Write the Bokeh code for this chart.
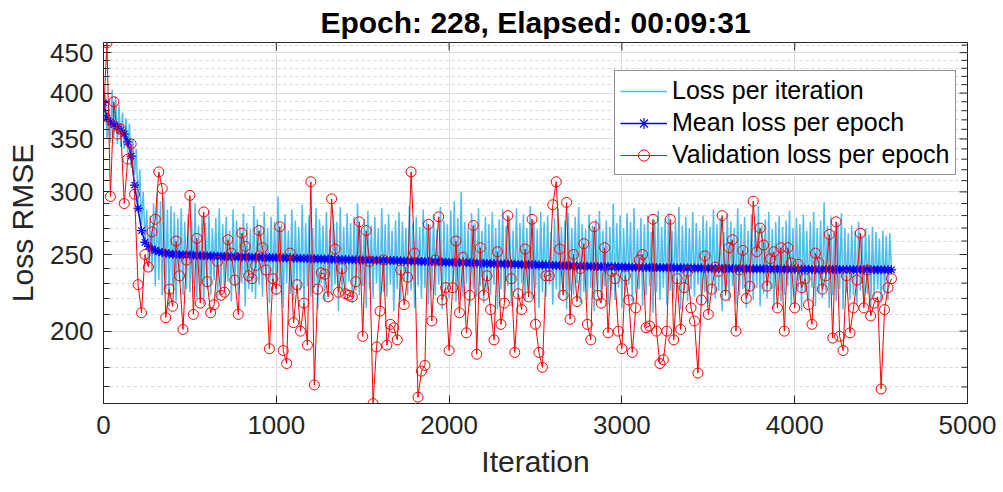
from bokeh.plotting import figure
from bokeh.models import (Range1d, FixedTicker, PrintfTickFormatter, Legend, LegendItem)
from bokeh.embed import file_html
from bokeh.resources import INLINE

FONT = "Liberation Sans"
AX = "#262626"

TITLE = "Epoch: 228, Elapsed: 00:09:31"
X_RANGE = (0, 5000)
Y_RANGE = (162, 463.5)
X_TICKS = [0, 1000, 2000, 3000, 4000, 5000]
Y_TICKS = [200, 250, 300, 350, 400, 450]
Y_MINOR = [170, 180, 190, 210, 220, 230, 240, 260, 270, 280, 290,
           310, 320, 330, 340, 360, 370, 380, 390, 410, 420, 430, 440, 460]

# loss per iteration (sampled every 10 iterations)
ITER_X = list(range(0, 4561, 10))
ITER_LOSS = [
    370, 398, 350, 392, 346, 404, 352, 396, 345, 386,
    342, 378, 340, 372, 336, 366, 322, 350, 315, 340,
    290, 320, 272, 300, 258, 285, 242, 280, 238, 290,
    228, 300, 232, 292, 222, 296, 226, 285, 215, 288,
    228, 283, 218, 278, 230, 286, 222, 275, 226, 281,
    224, 276, 230, 290, 220, 272, 228, 280, 216, 274,
    226, 284, 222, 270, 232, 278, 219, 286, 227, 273,
    223, 279, 231, 268, 218, 285, 228, 276, 222, 271,
    230, 282, 215, 274, 226, 269, 224, 288, 220, 277,
    229, 272, 221, 283, 233, 270, 217, 279, 226, 275,
    222, 296, 228, 273, 214, 281, 230, 268, 223, 285,
    219, 276, 231, 271, 225, 289, 216, 274, 228, 280,
    221, 270, 227, 286, 213, 277, 230, 272, 218, 283,
    226, 269, 222, 280, 229, 275, 212, 287, 224, 271,
    220, 282, 231, 274, 217, 279, 225, 290, 222, 268,
    228, 277, 214, 284, 226, 272, 220, 279, 230, 270,
    216, 286, 224, 273, 221, 281, 229, 268, 212, 276,
    226, 283, 219, 275, 231, 270, 222, 288, 225, 274,
    214, 279, 228, 271, 220, 285, 227, 276, 216, 272,
    225, 281, 222, 269, 229, 287, 213, 276, 226, 273,
    220, 284, 227, 292, 218, 278, 224, 300, 221, 275,
    230, 270, 215, 282, 226, 274, 221, 286, 228, 268,
    217, 279, 225, 273, 222, 283, 229, 270, 213, 277,
    226, 285, 220, 272, 228, 279, 215, 268, 224, 286,
    221, 274, 230, 281, 218, 270, 225, 288, 220, 276,
    227, 269, 214, 283, 224, 275, 221, 280, 229, 267,
    216, 278, 226, 286, 220, 271, 228, 276, 213, 282,
    225, 270, 222, 279, 230, 287, 217, 273, 224, 269,
    219, 281, 227, 272, 212, 277, 226, 284, 221, 268,
    228, 276, 216, 271, 225, 290, 219, 274, 227, 280,
    214, 270, 224, 282, 229, 275, 218, 286, 223, 269,
    226, 278, 215, 273, 222, 280, 228, 267, 211, 276,
    224, 284, 219, 271, 227, 277, 216, 282, 225, 268,
    220, 275, 228, 287, 213, 272, 223, 279, 218, 270,
    226, 283, 221, 274, 229, 268, 215, 280, 224, 276,
    217, 271, 227, 285, 220, 273, 225, 278, 212, 267,
    223, 282, 218, 275, 228, 270, 216, 286, 222, 273,
    226, 279, 214, 268, 224, 281, 219, 274, 227, 288,
    215, 272, 223, 277, 220, 283, 226, 269, 213, 275,
    225, 280, 218, 271, 222, 276, 228, 284, 216, 270,
    221, 278, 226, 273, 212, 281, 224, 268, 219, 275,
    227, 283, 215, 270, 223, 276, 220, 291, 225, 272,
    214, 279, 222, 268, 218, 274, 226, 282, 213, 270,
    224, 266, 219, 272, 222, 268, 216, 275, 225, 264,
    218, 270, 223, 265, 215, 271, 221, 267, 226, 262,
    217, 268, 222, 264, 219, 266, 238,
]

# per-epoch values (every 20 iterations)
EPOCH_X = list(range(0, 4561, 20))
MEAN_LOSS = [
    389, 372, 368, 365, 363, 359, 355, 347, 333, 306,
    286, 268, 259, 256, 254, 253, 252, 251.5, 251, 250.5,
    250.2, 250.1, 249.9, 249.8, 249.7, 249.6, 249.5, 249.3, 249.2, 249.1,
    249.0, 248.9, 248.9, 248.8, 248.7, 248.6, 248.5, 248.4, 248.4, 248.3,
    248.2, 248.2, 248.1, 248.0, 248.0, 247.9, 247.9, 247.8, 247.8, 247.7,
    247.7, 247.6, 247.5, 247.5, 247.4, 247.3, 247.3, 247.2, 247.1, 247.1,
    247.0, 246.9, 246.9, 246.8, 246.7, 246.7, 246.6, 246.5, 246.5, 246.4,
    246.4, 246.3, 246.2, 246.2, 246.1, 246.1, 246.0, 245.9, 245.9, 245.8,
    245.8, 245.7, 245.7, 245.6, 245.6, 245.6, 245.5, 245.4, 245.3, 245.3,
    245.2, 245.1, 245.0, 245.0, 244.9, 244.8, 244.7, 244.7, 244.6, 244.5,
    244.4, 244.4, 244.3, 244.2, 244.1, 244.1, 244.0, 243.9, 243.8, 243.8,
    243.7, 243.6, 243.5, 243.5, 243.4, 243.3, 243.2, 243.2, 243.1, 243.0,
    242.9, 242.9, 242.8, 242.7, 242.7, 242.6, 242.5, 242.4, 242.4, 242.3,
    242.2, 242.2, 242.1, 242.0, 242.0, 241.9, 241.8, 241.8, 241.7, 241.7,
    241.6, 241.6, 241.5, 241.4, 241.4, 241.3, 241.3, 241.2, 241.2, 241.1,
    241.1, 241.0, 241.0, 240.9, 240.9, 240.9, 240.8, 240.8, 240.8, 240.7,
    240.7, 240.7, 240.6, 240.6, 240.6, 240.5, 240.5, 240.5, 240.4, 240.4,
    240.4, 240.3, 240.3, 240.3, 240.2, 240.2, 240.2, 240.1, 240.1, 240.1,
    240.0, 240.0, 240.0, 239.9, 239.9, 239.9, 239.9, 239.8, 239.8, 239.8,
    239.8, 239.7, 239.7, 239.7, 239.7, 239.6, 239.6, 239.6, 239.6, 239.6,
    239.5, 239.5, 239.5, 239.5, 239.5, 239.4, 239.4, 239.4, 239.4, 239.4,
    239.4, 239.3, 239.3, 239.3, 239.3, 239.3, 239.3, 239.3, 239.2, 239.2,
    239.2, 239.2, 239.2, 239.2, 239.2, 239.2, 239.1, 239.1, 239.1,
]
VAL_LOSS = [
    374, 463, 296, 390, 355, 360, 290, 330, 345, 298,
    229, 211, 250, 241, 267, 277, 318, 303, 208, 226,
    215, 260, 235, 201, 246, 297, 210, 262, 217, 283,
    231, 211, 216, 245, 222, 224, 261, 251, 232, 210,
    266, 256, 235, 233, 242, 268, 255, 239, 190, 233,
    226, 271, 189, 182, 251, 205, 229, 200, 217, 192,
    309, 171, 226, 237, 236, 221, 294, 254, 224, 240,
    223, 222, 221, 231, 275, 197, 268, 245, 162, 191,
    212, 246, 192, 204, 202, 195, 239, 216, 234, 318,
    251, 165, 178, 181, 273, 206, 246, 279, 219, 227,
    189, 227, 260, 211, 248, 199, 222, 272, 187, 255,
    222, 235, 213, 195, 252, 204, 217, 280, 233, 188,
    223, 213, 254, 221, 277, 204, 188, 180, 235, 235,
    289, 309, 254, 222, 291, 207, 250, 218, 240, 258,
    204, 195, 271, 222, 217, 255, 199, 238, 233, 200,
    190, 235, 219, 188, 214, 246, 250, 202, 203, 277,
    200, 182, 184, 200, 277, 195, 233, 201, 227, 238,
    214, 206, 177, 219, 249, 210, 226, 241, 238, 280,
    222, 255, 261, 200, 239, 253, 220, 228, 292, 252,
    270, 257, 228, 247, 252, 214, 255, 200, 255, 244,
    214, 243, 227, 233, 216, 204, 251, 244, 226, 235,
    265, 196, 275, 197, 189, 235, 199, 214, 232, 266,
    214, 239, 209, 217, 221, 169, 213, 227, 233,
]

p = figure(width=1003, height=492, output_backend="svg", toolbar_location=None,
           x_range=Range1d(*X_RANGE), y_range=Range1d(*Y_RANGE),
           y_axis_type="log",
           min_border_left=103, min_border_right=36,
           min_border_top=41, min_border_bottom=89)

p.title.text = TITLE
p.title.align = "center"
p.title.text_font = FONT
p.title.text_font_size = "30px"
p.title.text_font_style = "bold"
p.title.text_color = "black"
p.title.standoff = 7

p.outline_line_color = AX
p.outline_line_width = 1

# grids
p.xgrid.grid_line_color = "#dedede"
p.ygrid.grid_line_color = "#dedede"
p.ygrid.minor_grid_line_color = "#d6d6d6"
p.ygrid.minor_grid_line_dash = "3 3"

xt = FixedTicker(ticks=X_TICKS)
yt = FixedTicker(ticks=Y_TICKS, minor_ticks=Y_MINOR)
p.xaxis.ticker = xt
p.yaxis.ticker = yt
p.yaxis.formatter = PrintfTickFormatter(format="%d")
p.xaxis.formatter = PrintfTickFormatter(format="%d")
for ax in (p.xaxis[0], p.yaxis[0]):
    ax.axis_line_color = AX
    ax.major_tick_line_color = AX
    ax.minor_tick_line_color = AX
    ax.major_tick_in = 8
    ax.major_tick_out = 0
    ax.minor_tick_in = 6
    ax.minor_tick_out = 0
    ax.major_label_text_font = FONT
    ax.major_label_text_color = AX
    ax.major_label_text_font_size = "26px"
    ax.axis_label_text_font = FONT
    ax.axis_label_text_color = AX
    ax.axis_label_text_font_style = "normal"
    ax.axis_label_text_font_size = "30px"
p.xaxis.axis_label = "Iteration"
p.yaxis.axis_label = "Loss RMSE"
p.xaxis.major_label_standoff = 12
p.yaxis.major_label_standoff = 10
p.xaxis.axis_label_standoff = 8
p.yaxis.axis_label_standoff = 8

# inward tick marks on the top and right edges of the box
XPX = (X_RANGE[1] - X_RANGE[0]) / 864.0
YFAC = (Y_RANGE[1] / Y_RANGE[0]) ** (1.0 / 362.0)
p.segment(x0=X_TICKS, x1=X_TICKS, y0=[Y_RANGE[1]] * len(X_TICKS),
          y1=[Y_RANGE[1] / YFAC ** 8] * len(X_TICKS), line_color=AX, line_width=1)
p.segment(x0=[X_RANGE[1]] * len(Y_TICKS), x1=[X_RANGE[1] - 8 * XPX] * len(Y_TICKS),
          y0=Y_TICKS, y1=Y_TICKS, line_color=AX, line_width=1)
p.segment(x0=[X_RANGE[1]] * len(Y_MINOR), x1=[X_RANGE[1] - 6 * XPX] * len(Y_MINOR),
          y0=Y_MINOR, y1=Y_MINOR, line_color=AX, line_width=1)

r1 = p.line(ITER_X, ITER_LOSS, line_color="#4DBEEE", line_width=1.5)
r2l = p.line(EPOCH_X, MEAN_LOSS, line_color="#0000ff", line_width=1.5)
r2m = p.scatter(EPOCH_X, MEAN_LOSS, marker="asterisk", size=9,
                line_color="#0000ff", line_width=1.2)
r3l = p.line(EPOCH_X, VAL_LOSS, line_color="#ff0000", line_width=1)
r3m = p.scatter(EPOCH_X, VAL_LOSS, marker="circle", size=10,
                line_color="#ff0000", fill_color=None, line_width=1)

legend = Legend(items=[
    LegendItem(label="Loss per iteration", renderers=[r1]),
    LegendItem(label="Mean loss per epoch", renderers=[r2l, r2m]),
    LegendItem(label="Validation loss per epoch", renderers=[r3l, r3m]),
], location=(511, 228))
legend.border_line_color = AX
legend.border_line_width = 1
legend.background_fill_color = "white"
legend.background_fill_alpha = 1
legend.label_text_font = FONT
legend.label_text_font_size = "25px"
legend.label_text_color = "black"
legend.glyph_width = 47
legend.glyph_height = 28
legend.label_height = 28
legend.spacing = 3
legend.padding = 5
legend.margin = 0
legend.label_standoff = 5
p.add_layout(legend)

open("out.html", "w").write(file_html(p, INLINE))
